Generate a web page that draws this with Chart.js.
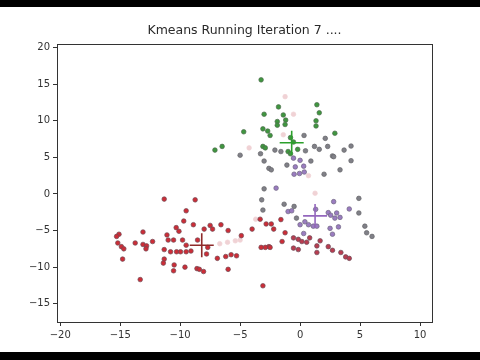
<!DOCTYPE html>
<html>
<head>
<meta charset="utf-8">
<script src="https://cdn.jsdelivr.net/npm/chart.js@4"></script>
<style>
  html, body { margin: 0; padding: 0; background: #000; }
  #wrap { width: 480px; height: 360px; }
</style>
</head>
<body>
<div id="wrap"><canvas id="kmeans" width="480" height="360"></canvas></div>
<script>
// chart title and axis ticks
const titleText = 'Kmeans Running Iteration 7 ....';
const xTicks = [-20, -15, -10, -5, 0, 5, 10];
const yTicks = [-15, -10, -5, 0, 5, 10, 15, 20];

// cluster points, [x, y]
const greenPts = [
    [-3.25, 15.6], [-1.8, 11.9], [1.4, 12.2], [1.6, 11.1], [-3.0, 10.9], [-1.4, 10.8],
    [-1.9, 9.9], [-1.2, 10.1], [-1.9, 9.4], [-1.25, 9.5], [1.33, 10.0], [1.33, 9.3],
    [-4.7, 8.5], [-3.1, 8.9], [-2.7, 8.6], [-2.5, 8.0], [2.9, 8.3], [-0.8, 7.7],
    [-0.55, 7.1], [-3.1, 6.5], [-2.9, 6.3], [-1.0, 5.8], [-0.2, 6.1], [-0.8, 5.5],
    [-7.1, 6.0], [-6.5, 6.5]
];
const grayPts = [
    [0.33, 8.0], [2.1, 7.6], [-2.1, 6.0], [-1.6, 5.8], [0.45, 5.9], [1.2, 6.5],
    [1.6, 6.1], [2.3, 6.5], [2.7, 5.2], [-5.0, 5.3], [-3.3, 5.5], [0.9, 4.5],
    [-3.0, 4.5], [-1.1, 3.95], [-2.6, 3.5], [-2.4, 3.3], [2.0, 2.7], [3.67, 6.0],
    [4.25, 6.55], [2.8, 5.1], [4.25, 4.55], [3.33, 3.3], [4.9, -0.6], [4.9, -2.6],
    [-1.33, -1.4], [-0.5, -1.7], [-0.3, -3.3], [5.4, -4.4], [5.55, -5.3], [6.0, -5.8],
    [-3.2, -0.8], [-3.1, -2.2], [-3.0, 0.7]
];
const purplePts = [
    [-0.55, 4.9], [0, 4.6], [-0.4, 3.7], [0.3, 3.8], [-0.5, 2.7], [-0.05, 2.8],
    [0.35, 3.0], [-2.0, 0.8], [2.8, -1.05], [4.1, -2.05], [-1.0, -2.4], [-0.7, -2.3],
    [2.35, -2.55], [2.55, -2.9], [3.05, -2.6], [2.9, -3.3], [3.33, -3.2], [0.4, -3.8],
    [0, -4.2], [0.7, -4.2], [1.1, -4.4], [1.4, -4.4], [2.5, -4.7], [3.2, -4.5],
    [2.7, -5.5], [0.3, -5.4], [1.3, -2.1]
];
const redPts = [
    [-8.75, -0.8], [-11.33, -0.7], [-9.5, -2.3], [-9.7, -3.7], [-8.9, -4.2], [-10.33, -4.6],
    [-10.1, -5.1], [-13.1, -5.2], [-15.1, -5.5], [-15.3, -5.8], [-11.1, -5.6], [-11.0, -6.3],
    [-10.55, -6.3], [-9.8, -6.3], [-9.5, -7.0], [-15.2, -6.7], [-14.9, -7.2], [-14.7, -7.5],
    [-13.75, -6.7], [-13.1, -6.9], [-12.8, -7.1], [-12.85, -7.5], [-12.3, -6.5], [-11.33, -7.6],
    [-10.8, -7.9], [-10.3, -7.9], [-9.97, -7.9], [-9.5, -7.9], [-9.1, -7.8], [-14.8, -8.9],
    [-11.33, -8.9], [-11.4, -9.45], [-10.5, -9.7], [-10.55, -10.5], [-9.6, -10.0], [-13.33, -11.7],
    [-4.0, -4.8], [-4.9, -5.7], [-6.0, -5.0], [-6.6, -4.2], [-7.5, -4.3], [-7.3, -4.8],
    [-8.0, -4.8], [-8.55, -6.3], [-7.7, -7.3], [-7.8, -8.2], [-6.9, -8.8], [-6.2, -8.55],
    [-5.75, -8.3], [-5.3, -8.45], [-6.0, -10.3], [-8.6, -10.2], [-8.4, -10.3], [-8.05, -10.6],
    [-3.33, -3.45], [-2.83, -4.1], [-1.6, -3.5], [-2.4, -4.1], [-2.2, -4.8], [-1.25, -5.3],
    [-1.5, -6.5], [-2.6, -7.2], [-2.9, -7.3], [-3.25, -7.3], [-2.5, -7.3], [-3.1, -12.55]
];
const mixPts = [
    [-0.55, -6.0], [-0.15, -6.2], [0.15, -6.5], [0.55, -6.6], [0.8, -6.0], [1.67, -6.4],
    [1.4, -7.1], [2.35, -7.2], [2.7, -7.7], [3.4, -8.0], [3.8, -8.6], [4.1, -8.8],
    [1.4, -8.0], [-0.55, -7.4], [-0.15, -7.6]
];
const palePts = [
    [-1.25, 13.3], [-0.55, 10.9], [-1.4, 8.1], [-4.25, 6.3], [0.7, 2.5], [1.25, 0.1],
    [-6.7, -6.8], [-6.05, -6.6], [-5.4, -6.4], [-5.0, -6.3], [-3.7, -3.45]
];
// centroids
const greenCenter = [[-0.7, 7.0]];
const redCenter = [[-8.2, -7.0]];
const purpleCenter = [[1.25, -3.0]];

const toXY = arr => arr.map(p => ({ x: p[0], y: p[1] }));
const minus = v => String(v).replace('-', '\u2212');

function dots(data, fill, edge) {
    return {
        data: toXY(data),
        backgroundColor: fill,
        borderColor: edge,
        borderWidth: 0.7,
        pointRadius: 2.3
    };
}
function center(data, color) {
    return {
        data: toXY(data),
        pointStyle: 'cross',
        pointRadius: 12,
        borderColor: color,
        borderWidth: 1.6,
        backgroundColor: color
    };
}

const framePlugin = {
    id: 'frame',
    beforeDraw(chart) {
        const c = chart.ctx;
        c.save();
        c.fillStyle = '#fff';
        c.fillRect(0, 0, chart.width, chart.height);
        c.fillStyle = '#000';
        c.fillRect(0, 0, chart.width, 7);
        c.fillRect(0, 352, chart.width, chart.height - 352);
        c.restore();
    },
    afterDraw(chart) {
        const a = chart.chartArea;
        const c = chart.ctx;
        c.save();
        c.strokeStyle = '#333';
        c.lineWidth = 1;
        c.strokeRect(Math.round(a.left) + 0.5, Math.round(a.top) + 0.5,
            Math.round(a.right - a.left), Math.round(a.bottom - a.top));
        c.fillStyle = '#2a2a2a';
        c.font = '12.5px "DejaVu Sans"';
        c.textAlign = 'center';
        c.textBaseline = 'middle';
        c.fillText(titleText, (a.left + a.right) / 2, 31);
        c.restore();
    }
};

new Chart(document.getElementById('kmeans'), {
    type: 'scatter',
    data: {
        datasets: [
            center(greenCenter, '#2ca02c'),
            center(redCenter, '#8e2b2b'),
            center(purpleCenter, '#9467bd'),
            dots(greenPts, '#3f963f', '#4d6b4d'),
            dots(purplePts, '#9a7cc0', '#6f6680'),
            dots(grayPts, '#808087', '#646469'),
            dots(mixPts, '#b83d50', '#6a4a58'),
            dots(redPts, '#cc2d37', '#704a54'),
            dots(palePts, '#f0d2d5', '#f0d2d5')
        ]
    },
    options: {
        responsive: false,
        animation: false,
        events: [],
        layout: { padding: { top: 44, left: 0, right: 48, bottom: 0 } },
        plugins: { legend: { display: false }, title: { display: false }, tooltip: { enabled: false } },
        scales: {
            x: {
                type: 'linear',
                min: -20.27,
                max: 11.0,
                afterFit: s => { s.height = 38; },
                afterBuildTicks: s => { s.ticks = xTicks.map(v => ({ value: v })); },
                ticks: {
                    color: '#333',
                    padding: 3,
                    font: { family: 'DejaVu Sans', size: 10 },
                    callback: v => minus(v)
                },
                grid: { drawOnChartArea: false, tickLength: 4, color: '#333' },
                border: { display: true, color: '#333' }
            },
            y: {
                type: 'linear',
                min: -17.5,
                max: 20.5,
                afterFit: s => { s.width = 57; },
                afterBuildTicks: s => { s.ticks = yTicks.map(v => ({ value: v })); },
                ticks: {
                    color: '#333',
                    padding: 3,
                    font: { family: 'DejaVu Sans', size: 10 },
                    callback: v => minus(v)
                },
                grid: { drawOnChartArea: false, tickLength: 4, color: '#333' },
                border: { display: true, color: '#333' }
            }
        }
    },
    plugins: [framePlugin]
});
</script>
</body>
</html>
